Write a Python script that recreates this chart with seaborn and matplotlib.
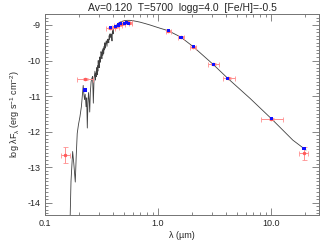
import numpy as np
import pandas as pd
import matplotlib
matplotlib.use("Agg")
import matplotlib.pyplot as plt
import matplotlib.ticker as mticker
import seaborn as sns

# model spectrum (micron, log lambda F_lambda)
spec_wave = [0.1665, 0.170, 0.1758, 0.180, 0.1855, 0.189, 0.193, 0.198, 0.204, 0.210,
             0.214, 0.218, 0.221, 0.224, 0.227, 0.231, 0.234, 0.237, 0.240, 0.243,
             0.246, 0.249, 0.252, 0.256, 0.260, 0.264, 0.268, 0.272, 0.277, 0.280,
             0.282, 0.285, 0.287, 0.290, 0.292, 0.294, 0.296, 0.298, 0.300, 0.303,
             0.305, 0.308, 0.310, 0.313, 0.316, 0.319, 0.322, 0.325, 0.328, 0.331,
             0.334, 0.337, 0.339, 0.342, 0.345, 0.348, 0.350, 0.354, 0.357, 0.360,
             0.363, 0.367, 0.370, 0.373, 0.376, 0.380, 0.384, 0.388, 0.392, 0.395,
             0.397, 0.401, 0.405, 0.410, 0.415, 0.420, 0.427, 0.433, 0.445, 0.461,
             0.480, 0.500, 0.532, 0.565, 0.600, 0.648, 0.693, 0.770, 0.850, 0.950,
             1.04, 1.23, 1.59, 2.05, 3.08, 4.14, 6.55, 10.1, 15.6, 20.4]
spec_flux = [-14.6, -13.4, -12.56, -12.9, -13.42, -12.7, -12.05, -11.8, -11.58, -11.3,
             -11.0, -10.70, -10.95, -11.1, -10.95, -11.3, -11.05, -11.9, -11.2, -10.9,
             -11.1, -11.45, -10.9, -10.6, -10.5, -10.45, -11.2, -10.5, -10.3, -10.55,
             -10.35, -10.45, -10.2, -10.4, -10.15, -10.3, -10.0, -10.2, -10.05, -10.2,
             -9.9, -10.05, -9.95, -9.75, -9.8, -9.95, -9.7, -9.85, -9.65, -9.8,
             -9.6, -9.7, -9.5, -9.65, -9.55, -9.45, -9.45, -9.6, -9.4, -9.5,
             -9.4, -9.5, -9.3, -9.4, -9.25, -9.35, -9.25, -9.3, -9.45, -9.2,
             -9.15, -9.25, -9.05, -9.1, -9.05, -9.05, -9.0, -9.0, -8.95, -8.92,
             -8.9, -8.88, -8.87, -8.87, -8.88, -8.9, -8.92, -8.96, -9.0, -9.05,
             -9.09, -9.16, -9.34, -9.61, -10.11, -10.50, -11.07, -11.64, -12.24, -12.52]

# photometry: observed, model, filter ranges
phot_wave = [0.150, 0.226, 0.38, 0.42, 0.445, 0.47, 0.505, 0.53, 0.55,
             1.23, 1.60, 2.05, 3.08, 4.14, 10.1, 19.6]
phot_obs = [-12.66, -10.52, -9.09, -9.06, -9.00, -8.98, -8.95, -8.93, -8.94,
            -9.16, -9.34, -9.61, -10.11, -10.50, -11.64, -12.61]
phot_err = [0.22, 0.03, 0.03, 0.03, 0.03, 0.03, 0.03, 0.03, 0.03,
            0.03, 0.03, 0.03, 0.03, 0.03, 0.03, 0.18]
phot_lo = [0.140, 0.192, 0.35, 0.39, 0.41, 0.44, 0.47, 0.49, 0.51,
           1.17, 1.49, 1.92, 2.78, 3.79, 8.1, 17.8]
phot_hi = [0.166, 0.266, 0.416, 0.45, 0.48, 0.51, 0.55, 0.585, 0.59,
           1.31, 1.71, 2.19, 3.45, 4.80, 12.8, 21.4]
phot_model = [np.nan, -10.83, -9.07, -9.05, -9.00, -8.97, -8.95, -8.94, -8.95,
              -9.16, -9.34, -9.61, -10.11, -10.50, -11.64, -12.47]

title = "Av=0.120  T=5700  logg=4.0  [Fe/H]=-0.5"

sns.set_style("ticks")
plt.rcParams['font.family'] = ['Liberation Sans', 'DejaVu Sans']
plt.rcParams['mathtext.default'] = 'regular'

spec = pd.DataFrame({'wave': spec_wave, 'flux': spec_flux})
phot = pd.DataFrame({'wave': phot_wave, 'obs': phot_obs, 'err': phot_err,
                     'lo': phot_lo, 'hi': phot_hi, 'model': phot_model})

fig = plt.figure(figsize=(3.33, 2.45), dpi=100)
ax = fig.add_axes([0.135, 0.122, 0.823, 0.821])

sns.lineplot(data=spec, x='wave', y='flux', sort=False, estimator=None,
             color='0.25', lw=0.6, ax=ax)

xerr = np.array([phot['wave'] - phot['lo'], phot['hi'] - phot['wave']])
ax.errorbar(phot['wave'], phot['obs'], xerr=xerr, yerr=phot['err'], fmt='o',
            ms=1.5, color='#ff5a5a', ecolor='#ff9090', elinewidth=0.7,
            capsize=1.8, capthick=0.6, zorder=3)
sns.scatterplot(data=phot, x='wave', y='model', marker='s', s=5, color='#1010ff',
                edgecolor='none', ax=ax, zorder=4)

ax.set_xscale('log')
ax.set_xlim(0.1, 26.6)
ax.set_ylim(-14.35, -8.69)
ax.xaxis.set_major_locator(mticker.FixedLocator([0.1, 1.0, 10.0]))
ax.xaxis.set_major_formatter(mticker.FixedFormatter(['0.1', '1.0', '10.0']))
ax.xaxis.set_minor_locator(mticker.LogLocator(base=10, subs=np.arange(2, 10)))
ax.xaxis.set_minor_formatter(mticker.NullFormatter())
ax.yaxis.set_major_locator(mticker.MultipleLocator(1))
ax.yaxis.set_minor_locator(mticker.MultipleLocator(0.1))
ax.yaxis.set_major_formatter(mticker.FuncFormatter(lambda v, p: f"{v:.0f}"))

ax.tick_params(which='both', direction='in', top=True, right=True,
               labelsize=6.5, color='0.45', width=0.6, pad=3)
ax.tick_params(which='major', length=5)
ax.tick_params(which='minor', length=2.5)
for s in ax.spines.values():
    s.set_color('0.45')
    s.set_linewidth(0.7)

ax.set_xlabel('λ (µm)', fontsize=6.5, labelpad=2)
ax.set_ylabel('log λF$_λ$ (erg s$^{-1}$ cm$^{-2}$)', fontsize=6.5, labelpad=4)
ax.set_title(title, fontsize=7.5, pad=2)

fig.savefig('out.png', dpi=100)
